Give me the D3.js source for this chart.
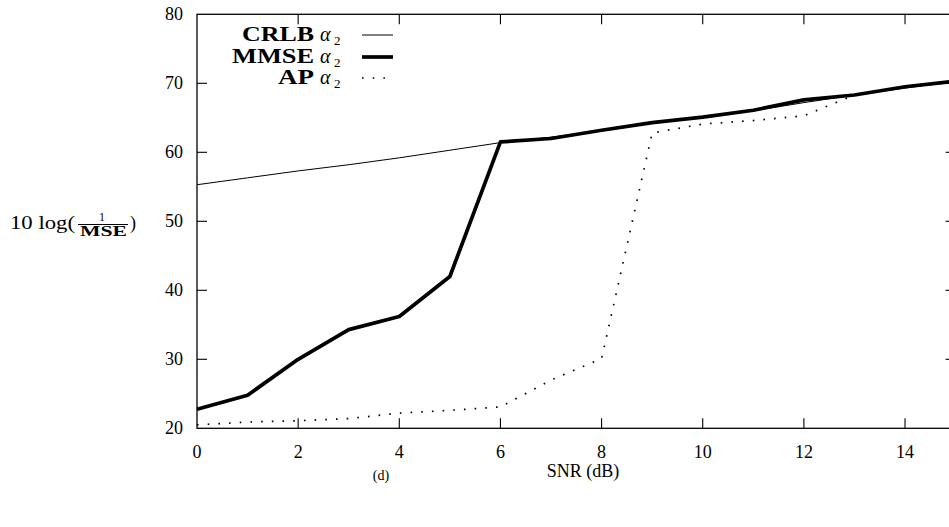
<!DOCTYPE html>
<html>
  <head>
    <meta charset="utf-8">
    <script src="https://d3js.org/d3.v7.min.js"></script>
    <title>CRLB / MMSE / AP</title>
    <style>
      body { margin: 0; background: #fff; }
      svg { display: block; font-family: "Liberation Serif", "DejaVu Serif", serif; }
    </style>
  </head>
  <body>
    <svg width="949" height="527"></svg>
    <script>
      // SNR (dB) on x, 10 log(1/MSE) on y
      const snr = [0, 1, 2, 3, 4, 5, 6, 7, 8, 9, 10, 11, 12, 13, 14, 15];
      const crlb = [55.3, 56.3, 57.3, 58.2, 59.2, 60.3, 61.4, 62.2, 63.1, 64.2, 65.2, 66.0, 67.2, 68.3, 69.3, 70.3];
      const mmse = [22.75, 24.8, 30.0, 34.3, 36.2, 42.0, 61.5, 62.0, 63.2, 64.3, 65.1, 66.1, 67.6, 68.3, 69.5, 70.3];
      const ap = [20.5, 20.9, 21.1, 21.4, 22.2, 22.6, 23.1, 27.0, 30.1, 62.8, 64.1, 64.6, 65.3, 68.3, 69.4, 70.2];
      const xTicks = [0, 2, 4, 6, 8, 10, 12, 14];
      const yTicks = [20, 30, 40, 50, 60, 70, 80];
      const legendNames = ['CRLB', 'MMSE', 'AP'];

      const svg = d3.select('svg');
      const plotL = 197, plotR = 955.6, plotT = 14.3, plotB = 428.3;

      const x = d3.scaleLinear().domain([0, 15]).range([plotL, plotR]);
      const y = d3.scaleLinear().domain([20, 80]).range([plotB, plotT]);

      // frame
      svg.append('rect')
          .attr('x', plotL).attr('y', plotT)
          .attr('width', plotR - plotL).attr('height', plotB - plotT)
          .attr('fill', 'none').attr('stroke', '#000').attr('stroke-width', 1.3);

      const tickLen = 10;
      // bottom + top ticks (inward)
      svg.append('g').selectAll('line').data(xTicks.filter(d => d > 0)).enter().append('line')
          .attr('x1', d => x(d)).attr('x2', d => x(d))
          .attr('y1', plotB).attr('y2', plotB - tickLen)
          .attr('stroke', '#000').attr('stroke-width', 1.1);
      svg.append('g').selectAll('line').data(xTicks.filter(d => d > 0)).enter().append('line')
          .attr('x1', d => x(d)).attr('x2', d => x(d))
          .attr('y1', plotT).attr('y2', plotT + tickLen)
          .attr('stroke', '#000').attr('stroke-width', 1.1);
      // left + right ticks
      svg.append('g').selectAll('line').data(yTicks.slice(1, -1)).enter().append('line')
          .attr('x1', plotL).attr('x2', plotL + tickLen)
          .attr('y1', d => y(d)).attr('y2', d => y(d))
          .attr('stroke', '#000').attr('stroke-width', 1.1);
      svg.append('g').selectAll('line').data(yTicks.slice(1, -1)).enter().append('line')
          .attr('x1', plotR).attr('x2', plotR - tickLen)
          .attr('y1', d => y(d)).attr('y2', d => y(d))
          .attr('stroke', '#000').attr('stroke-width', 1.1);

      // tick labels
      svg.append('g').selectAll('text').data(xTicks).enter().append('text')
          .attr('x', d => x(d)).attr('y', plotB + 30)
          .attr('text-anchor', 'middle')
          .attr('font-size', 18)
          .text(d => d);
      svg.append('g').selectAll('text').data(yTicks).enter().append('text')
          .attr('x', plotL - 14).attr('y', d => y(d) + 6)
          .attr('text-anchor', 'end')
          .attr('font-size', 18)
          .text(d => d);

      // axis titles
      svg.append('text')
          .attr('x', 583).attr('y', plotB + 49)
          .attr('text-anchor', 'middle')
          .attr('font-size', 18)
          .text('SNR (dB)');

      const yl = svg.append('g');
      yl.append('text').attr('x', 10).attr('y', 229).attr('font-size', 18)
          .attr('textLength', 65).attr('lengthAdjust', 'spacingAndGlyphs')
          .text('10 log(');
      yl.append('text').attr('x', 102).attr('y', 221).attr('font-size', 12)
          .attr('text-anchor', 'middle').text('1');
      yl.append('line').attr('x1', 78).attr('x2', 128).attr('y1', 224.5).attr('y2', 224.5)
          .attr('stroke', '#000').attr('stroke-width', 1);
      yl.append('text').attr('x', 80).attr('y', 236).attr('font-size', 14)
          .attr('font-weight', 'bold')
          .attr('textLength', 47).attr('lengthAdjust', 'spacingAndGlyphs')
          .text('MSE');
      yl.append('text').attr('x', 130).attr('y', 229).attr('font-size', 18).text(')');

      svg.append('text')
          .attr('x', 381).attr('y', 480)
          .attr('text-anchor', 'middle')
          .attr('font-size', 14)
          .text('(d)');

      // series
      const line = d3.line().x((d, i) => x(snr[i])).y(d => y(d));
      const styles = [
        { data: crlb, width: 1.0, dash: null },
        { data: mmse, width: 3.7, dash: null },
        { data: ap, width: 1.7, dash: '1.6 9.1' }
      ];
      styles.forEach(s => {
        svg.append('path')
            .attr('d', line(s.data))
            .attr('fill', 'none')
            .attr('stroke', '#000')
            .attr('stroke-width', s.width)
            .attr('stroke-linejoin', 'round')
            .attr('stroke-dasharray', s.dash);
      });

      // legend
      const legendY = [41, 63, 84];
      const wordStart = [242, 232, 278];
      const wordWidth = [72, 82, 36];
      const lg = svg.append('g');
      legendNames.forEach((name, i) => {
        lg.append('text')
            .attr('x', wordStart[i]).attr('y', legendY[i])
            .attr('font-size', 20).attr('font-weight', 'bold')
            .attr('textLength', wordWidth[i]).attr('lengthAdjust', 'spacingAndGlyphs')
            .text(name);
        lg.append('text')
            .attr('x', 320).attr('y', legendY[i])
            .attr('font-size', 20).attr('font-style', 'italic')
            .text('α');
        lg.append('text')
            .attr('x', 334).attr('y', legendY[i] + 4)
            .attr('font-size', 13)
            .text('2');
        lg.append('line')
            .attr('x1', 362).attr('x2', 393)
            .attr('y1', legendY[i] - 6).attr('y2', legendY[i] - 6)
            .attr('stroke', '#000')
            .attr('stroke-width', styles[i].width)
            .attr('stroke-dasharray', styles[i].dash);
      });
    </script>
  </body>
</html>
